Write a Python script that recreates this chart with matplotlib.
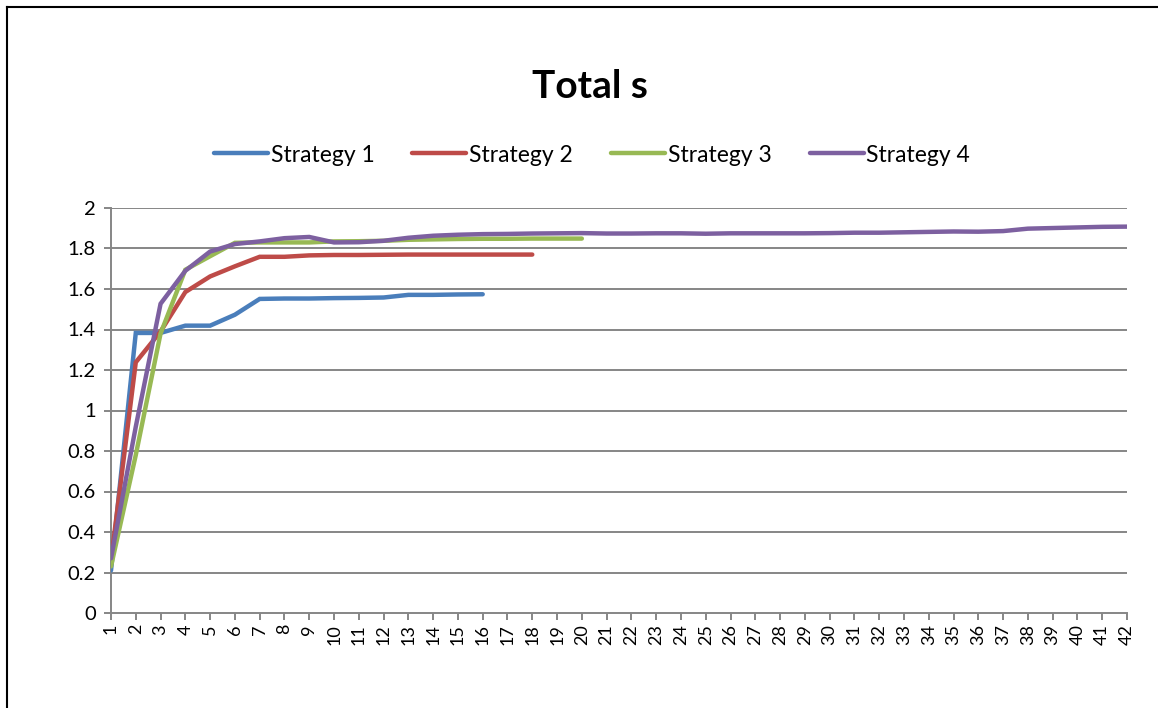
import matplotlib
matplotlib.use("Agg")
import matplotlib.pyplot as plt
from matplotlib.lines import Line2D

# Data series
strategy_1 = [0.21, 1.383, 1.383, 1.419, 1.419, 1.473, 1.551, 1.553, 1.553, 1.555,
              1.556, 1.558, 1.571, 1.571, 1.573, 1.574]
strategy_2 = [0.26, 1.238, 1.39, 1.585, 1.662, 1.712, 1.759, 1.759, 1.766, 1.768,
              1.768, 1.769, 1.770, 1.770, 1.770, 1.770, 1.770, 1.770]
strategy_3 = [0.23, 0.78, 1.38, 1.695, 1.762, 1.828, 1.830, 1.830, 1.830, 1.835,
              1.836, 1.838, 1.843, 1.845, 1.847, 1.848, 1.848, 1.849, 1.849, 1.849]
strategy_4 = [0.27, 0.92, 1.527, 1.69, 1.785, 1.822, 1.835, 1.851, 1.857, 1.830,
              1.831, 1.838, 1.853, 1.863, 1.868, 1.871, 1.872, 1.874, 1.875, 1.876,
              1.874, 1.874, 1.875, 1.875, 1.873, 1.875, 1.875, 1.875, 1.875, 1.876,
              1.878, 1.878, 1.880, 1.882, 1.884, 1.883, 1.886, 1.898, 1.901, 1.904,
              1.907, 1.908]
series_names = ["Strategy 1", "Strategy 2", "Strategy 3", "Strategy 4"]
series_colors = ["#4A7EBB", "#BE4B48", "#98B954", "#7D60A0"]
y_ticks = [0, 0.2, 0.4, 0.6, 0.8, 1, 1.2, 1.4, 1.6, 1.8, 2]
y_tick_labels = ["0", "0.2", "0.4", "0.6", "0.8", "1", "1.2", "1.4", "1.6", "1.8", "2"]
categories = list(range(1, 43))

plt.rcParams["font.family"] = ["Lato", "DejaVu Sans"]

W, H = 1158, 708
fig = plt.figure(figsize=(W / 100, H / 100), dpi=100)

# Chart frame (left and top edges)
fig.add_artist(Line2D([7 / W, 7 / W], [0, 1 - 7 / H], color="black", lw=1.5,
                      transform=fig.transFigure))
fig.add_artist(Line2D([7 / W, 1], [1 - 7 / H, 1 - 7 / H], color="black", lw=1.5,
                      transform=fig.transFigure))

left, right, top, bottom = 111, 1127, 208, 613
ax = fig.add_axes([left / W, 1 - bottom / H, (right - left) / W, (bottom - top) / H])

grid_color = "#868686"
for v in y_ticks[1:]:
    ax.axhline(v, color=grid_color, lw=1.4, zorder=1)

all_series = [strategy_1, strategy_2, strategy_3, strategy_4]
handles = []
for vals, name, col in zip(all_series, series_names, series_colors):
    xs = categories[:len(vals)]
    (ln,) = ax.plot(xs, vals, color=col, lw=3.2, label=name, zorder=3,
                    solid_capstyle="round", solid_joinstyle="miter")
    handles.append(ln)

ax.set_xlim(1, 42)
ax.set_ylim(0, 2)
ax.set_yticks(y_ticks)
ax.set_yticklabels(y_tick_labels)
ax.set_xticks(categories)
ax.set_xticklabels([str(c) for c in categories], rotation=90, va="top", ha="center")

for side in ["top", "right"]:
    ax.spines[side].set_visible(False)
for side in ["left", "bottom"]:
    ax.spines[side].set_color(grid_color)
    ax.spines[side].set_linewidth(1.4)

ax.tick_params(axis="y", length=5, width=1.4, color=grid_color, labelsize=14.5,
               pad=6, direction="out")
ax.tick_params(axis="x", length=5, width=1.4, color=grid_color, labelsize=13,
               pad=3, direction="out")

fig.text(590 / W, 1 - 87 / H, "Total s", ha="center", va="center",
         fontsize=28, fontweight="bold")

fig.legend(handles=handles, labels=series_names, loc="center",
           bbox_to_anchor=(592 / W, 1 - 155 / H), ncol=4, frameon=False,
           fontsize=16.5, handlelength=2.35, handletextpad=0.13, columnspacing=1.66)

fig.savefig("out.png", dpi=100)
